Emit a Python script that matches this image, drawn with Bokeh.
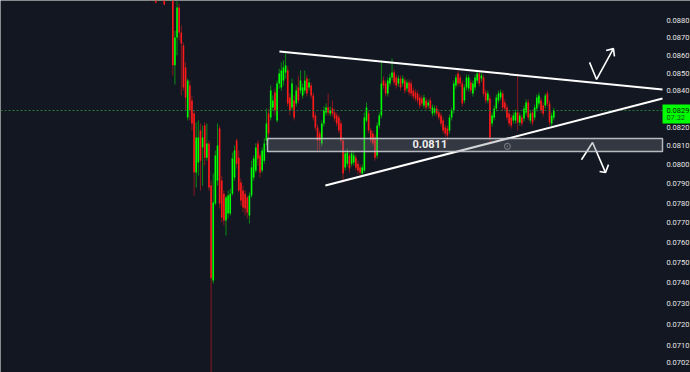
from bokeh.plotting import figure
from bokeh.models import ColumnDataSource, Range1d, Label, BoxAnnotation
from bokeh.core.properties import value
from bokeh.embed import file_html
from bokeh.resources import INLINE

# ---------------- data (prices) ----------------
opens = [
0.09156, 0.09048, 0.09036, 0.09095, 0.09006, 0.09066, 0.09006, 0.08964, 0.09066, 0.08976,
0.08917, 0.08543, 0.08702, 0.08876, 0.08731, 0.08656, 0.08531, 0.08254, 0.08430, 0.08347,
0.08276, 0.07959, 0.08012, 0.08183, 0.08092, 0.08210, 0.08038, 0.08114, 0.07891, 0.07412,
0.07798, 0.07917, 0.08194, 0.07917, 0.07849, 0.07711, 0.07747, 0.07747, 0.07849, 0.07933,
0.08130, 0.08038, 0.07907, 0.07865, 0.07849, 0.07829, 0.07736, 0.07839, 0.07933, 0.07970,
0.08114, 0.08049, 0.07970, 0.08022, 0.08130, 0.08276, 0.08254, 0.08308, 0.08391, 0.08238,
0.08441, 0.08419, 0.08458, 0.08503, 0.08514, 0.08364, 0.08308, 0.08347, 0.08331, 0.08419,
0.08402, 0.08375, 0.08402, 0.08469, 0.08419, 0.08430, 0.08375, 0.08265, 0.08199, 0.08167,
0.08114, 0.08221, 0.08281, 0.08308, 0.08276, 0.08303, 0.08281, 0.08265, 0.08254, 0.08221,
0.08130, 0.07986, 0.08006, 0.08049, 0.08006, 0.08012, 0.08038, 0.08006, 0.07986, 0.07954,
0.07970, 0.08238, 0.08276, 0.08183, 0.08167, 0.08146, 0.08049, 0.08210, 0.08265, 0.08458,
0.08441, 0.08386, 0.08441, 0.08475, 0.08503, 0.08475, 0.08441, 0.08469, 0.08441, 0.08458,
0.08413, 0.08447, 0.08441, 0.08402, 0.08391, 0.08386, 0.08364, 0.08358, 0.08320, 0.08347,
0.08320, 0.08347, 0.08276, 0.08281, 0.08303, 0.08281, 0.08265, 0.08238, 0.08199, 0.08194,
0.08183, 0.08254, 0.08292, 0.08430, 0.08497, 0.08475, 0.08441, 0.08347, 0.08419, 0.08413,
0.08447, 0.08386, 0.08419, 0.08458, 0.08497, 0.08469, 0.08475, 0.08391, 0.08347, 0.08358,
0.08221, 0.08254, 0.08303, 0.08347, 0.08364, 0.08386, 0.08336, 0.08308, 0.08276, 0.08254,
0.08238, 0.08238, 0.08281, 0.08227, 0.08254, 0.08249, 0.08281, 0.08336, 0.08238, 0.08281,
0.08254, 0.08303, 0.08331, 0.08347, 0.08320, 0.08320, 0.08386, 0.08331, 0.08221, 0.08254,
]
highs = [
0.09186, 0.09168, 0.09066, 0.09113, 0.09144, 0.09083, 0.09024, 0.09048, 0.09083, 0.09113,
0.08947, 0.08742, 0.08917, 0.08899, 0.08771, 0.08673, 0.08560, 0.08469, 0.08458, 0.08375,
0.08292, 0.08227, 0.08238, 0.08221, 0.08210, 0.08227, 0.08221, 0.08130, 0.07917, 0.07954,
0.08076, 0.08221, 0.08210, 0.07943, 0.07865, 0.07839, 0.07865, 0.07875, 0.08065, 0.08103,
0.08141, 0.08076, 0.07928, 0.07891, 0.07865, 0.07839, 0.07855, 0.08022, 0.08049, 0.08114,
0.08130, 0.08065, 0.08092, 0.08141, 0.08303, 0.08303, 0.08430, 0.08375, 0.08413, 0.08458,
0.08525, 0.08560, 0.08571, 0.08616, 0.08537, 0.08386, 0.08469, 0.08375, 0.08430, 0.08486,
0.08514, 0.08441, 0.08514, 0.08486, 0.08469, 0.08447, 0.08391, 0.08281, 0.08216, 0.08183,
0.08238, 0.08314, 0.08331, 0.08386, 0.08314, 0.08347, 0.08303, 0.08281, 0.08270, 0.08238,
0.08146, 0.08076, 0.08087, 0.08065, 0.08076, 0.08076, 0.08054, 0.08022, 0.08001, 0.08001,
0.08281, 0.08336, 0.08292, 0.08199, 0.08183, 0.08162, 0.08227, 0.08281, 0.08571, 0.08480,
0.08458, 0.08475, 0.08497, 0.08582, 0.08520, 0.08491, 0.08486, 0.08486, 0.08486, 0.08475,
0.08464, 0.08464, 0.08458, 0.08419, 0.08408, 0.08402, 0.08380, 0.08375, 0.08380, 0.08364,
0.08353, 0.08364, 0.08325, 0.08320, 0.08320, 0.08297, 0.08281, 0.08254, 0.08216, 0.08210,
0.08270, 0.08308, 0.08458, 0.08491, 0.08514, 0.08491, 0.08458, 0.08436, 0.08491, 0.08491,
0.08464, 0.08458, 0.08491, 0.08508, 0.08514, 0.08503, 0.08491, 0.08408, 0.08402, 0.08375,
0.08281, 0.08320, 0.08380, 0.08402, 0.08408, 0.08402, 0.08353, 0.08325, 0.08292, 0.08270,
0.08281, 0.08297, 0.08497, 0.08281, 0.08270, 0.08320, 0.08353, 0.08353, 0.08292, 0.08297,
0.08325, 0.08380, 0.08391, 0.08364, 0.08336, 0.08386, 0.08402, 0.08347, 0.08281, 0.08308,
]
lows = [
0.09036, 0.09024, 0.08899, 0.08970, 0.08988, 0.08958, 0.08888, 0.08947, 0.08929, 0.08947,
0.08486, 0.08436, 0.08599, 0.08685, 0.08375, 0.08402, 0.08292, 0.08238, 0.08238, 0.08183,
0.07839, 0.07881, 0.07943, 0.07865, 0.07891, 0.07996, 0.08022, 0.07865, 0.06935, 0.07397,
0.07788, 0.07891, 0.07772, 0.07701, 0.07686, 0.07635, 0.07721, 0.07736, 0.07839, 0.07917,
0.07980, 0.07855, 0.07788, 0.07752, 0.07736, 0.07721, 0.07696, 0.07829, 0.07917, 0.07959,
0.07996, 0.07933, 0.07959, 0.08006, 0.08103, 0.08130, 0.08238, 0.08292, 0.08265, 0.08227,
0.08413, 0.08402, 0.08430, 0.08469, 0.08314, 0.08265, 0.08292, 0.08238, 0.08314, 0.08331,
0.08386, 0.08358, 0.08386, 0.08369, 0.08402, 0.08358, 0.08238, 0.08183, 0.08076, 0.08076,
0.08098, 0.08205, 0.08265, 0.08265, 0.08260, 0.08260, 0.08232, 0.08205, 0.08167, 0.08114,
0.07907, 0.07970, 0.07991, 0.07959, 0.07991, 0.07996, 0.07970, 0.07949, 0.07938, 0.07943,
0.07959, 0.08227, 0.08167, 0.08114, 0.08098, 0.08022, 0.08033, 0.08194, 0.08249, 0.08413,
0.08369, 0.08369, 0.08424, 0.08458, 0.08430, 0.08413, 0.08424, 0.08402, 0.08424, 0.08386,
0.08396, 0.08375, 0.08369, 0.08353, 0.08342, 0.08331, 0.08303, 0.08314, 0.08303, 0.08292,
0.08303, 0.08287, 0.08260, 0.08265, 0.08260, 0.08238, 0.08205, 0.08167, 0.08151, 0.08130,
0.08167, 0.08238, 0.08276, 0.08413, 0.08424, 0.08424, 0.08314, 0.08331, 0.08402, 0.08396,
0.08386, 0.08369, 0.08402, 0.08441, 0.08424, 0.08452, 0.08369, 0.08331, 0.08331, 0.08119,
0.08205, 0.08238, 0.08287, 0.08331, 0.08347, 0.08292, 0.08287, 0.08238, 0.08205, 0.08194,
0.08221, 0.08221, 0.08183, 0.08210, 0.08205, 0.08232, 0.08265, 0.08238, 0.08221, 0.08210,
0.08238, 0.08287, 0.08314, 0.08276, 0.08260, 0.08303, 0.08314, 0.08210, 0.08205, 0.08238,
]
closes = [
0.09066, 0.09144, 0.08905, 0.08988, 0.09126, 0.08976, 0.08894, 0.09036, 0.08947, 0.09095,
0.08543, 0.08702, 0.08876, 0.08731, 0.08668, 0.08419, 0.08364, 0.08458, 0.08292, 0.08221,
0.07959, 0.08146, 0.08146, 0.08022, 0.08146, 0.08038, 0.08114, 0.07881, 0.07422, 0.07803,
0.08049, 0.08103, 0.07798, 0.07726, 0.07711, 0.07829, 0.07839, 0.07849, 0.08033, 0.08076,
0.08006, 0.07865, 0.07813, 0.07777, 0.07772, 0.07752, 0.07839, 0.07986, 0.08033, 0.08092,
0.08033, 0.07959, 0.08076, 0.08114, 0.08221, 0.08167, 0.08402, 0.08347, 0.08292, 0.08441,
0.08497, 0.08514, 0.08531, 0.08543, 0.08331, 0.08292, 0.08441, 0.08254, 0.08402, 0.08347,
0.08458, 0.08419, 0.08458, 0.08386, 0.08447, 0.08375, 0.08254, 0.08199, 0.08130, 0.08130,
0.08221, 0.08292, 0.08308, 0.08281, 0.08292, 0.08276, 0.08249, 0.08221, 0.08183, 0.08130,
0.07954, 0.08060, 0.08065, 0.07980, 0.08060, 0.08049, 0.07986, 0.07970, 0.07959, 0.07986,
0.08254, 0.08308, 0.08183, 0.08130, 0.08114, 0.08038, 0.08210, 0.08265, 0.08441, 0.08430,
0.08386, 0.08458, 0.08475, 0.08503, 0.08447, 0.08430, 0.08469, 0.08419, 0.08469, 0.08402,
0.08447, 0.08391, 0.08386, 0.08369, 0.08358, 0.08347, 0.08320, 0.08331, 0.08364, 0.08308,
0.08336, 0.08303, 0.08308, 0.08303, 0.08276, 0.08254, 0.08221, 0.08183, 0.08167, 0.08157,
0.08254, 0.08292, 0.08441, 0.08475, 0.08441, 0.08441, 0.08331, 0.08419, 0.08475, 0.08475,
0.08402, 0.08441, 0.08475, 0.08497, 0.08441, 0.08486, 0.08386, 0.08347, 0.08386, 0.08146,
0.08265, 0.08303, 0.08364, 0.08386, 0.08391, 0.08308, 0.08303, 0.08254, 0.08221, 0.08210,
0.08265, 0.08281, 0.08227, 0.08265, 0.08221, 0.08303, 0.08336, 0.08254, 0.08276, 0.08227,
0.08308, 0.08364, 0.08375, 0.08292, 0.08276, 0.08375, 0.08331, 0.08227, 0.08265, 0.08292,
]

price_ticks = [0.0702, 0.0710, 0.0720, 0.0730, 0.0740, 0.0750, 0.0760, 0.0770, 0.0780,
               0.0790, 0.0800, 0.0810, 0.0820, 0.0840, 0.0850, 0.0860, 0.0870, 0.0880]

# drawings (bar index, price)
chart_end = 240.07            # right edge of the candle pane (bar index)
scale_label_x = 241.9         # where the price-scale labels start (bar index)
upper_trend_x = [60.1, chart_end]
upper_trend_y = [0.08622, 0.08408]
lower_trend_x = [81.7, chart_end]
lower_trend_y = [0.07891, 0.08358]
zone_top, zone_bottom, zone_start = 0.0814, 0.0807, 54.5
zone_label = "0.0811"
zone_label_x, zone_label_y = 122.6, 0.08108
anchor_x, anchor_y = [167.2], [0.08098]
up_arrow_x = [[205.8, 209.1, 217.0], [213.6, 217.0, 217.5]]
up_arrow_y = [[0.08560, 0.08464, 0.08638], [0.08627, 0.08638, 0.08594]]
down_arrow_x = [[202.0, 207.2, 213.3], [210.5, 213.3, 214.7]]
down_arrow_y = [[0.08027, 0.08119, 0.07959], [0.07965, 0.07959, 0.08001]]
last_price_text = "0.0829"
countdown_text = "07:32"
last_box_top, last_box_bottom = 0.08325, 0.08221

# ---------------- chart ----------------
BG = "#131722"
GREEN = "#00ff00"
RED = "#ff1a1a"

n = len(closes)
idx = list(range(n))
inc = [c >= o for o, c in zip(opens, closes)]
src = ColumnDataSource(dict(
    x=idx,
    top=[max(o, c) for o, c in zip(opens, closes)],
    bottom=[min(o, c) for o, c in zip(opens, closes)],
    high=highs, low=lows,
    color=[GREEN if u else RED for u in inc],
))

x_start = -70.94
p = figure(width=690, height=372, output_backend="svg", toolbar_location=None,
           y_axis_type="log", x_axis_location=None, y_axis_location=None,
           x_range=Range1d(x_start, 253.22), y_range=Range1d(0.069745, 0.08917),
           min_border_left=0, min_border_right=0, min_border_top=0, min_border_bottom=0,
           background_fill_color=BG, border_fill_color=BG, outline_line_color=None)
p.grid.visible = False

# candles
p.segment(x0="x", y0="high", x1="x", y1="low", source=src, line_color="color",
          line_alpha=0.5, line_width=1)
p.vbar(x="x", top="top", bottom="bottom", width=0.75, source=src,
       fill_color="color", line_color=None)

# last-price dotted line
p.line([x_start, chart_end], [closes[-1], closes[-1]], line_color="#2a7a36",
       line_dash="2 2", line_width=1)

# zone
p.add_layout(BoxAnnotation(left=zone_start, right=chart_end, top=zone_top, bottom=zone_bottom,
                           fill_color="#787b86", fill_alpha=0.33,
                           line_color="#c8cad0", line_width=1.5, line_alpha=0.9))
p.add_layout(Label(x=zone_label_x, y=zone_label_y, text=zone_label, text_baseline="middle",
                   text_color="#eeeeee", text_font="Roboto", text_font_style="bold",
                   text_font_size="11px"))
p.scatter(anchor_x, anchor_y, marker="circle_dot", size=6, fill_alpha=0,
          line_color="#8a8d96", line_width=1)

# triangle + arrows
p.line(upper_trend_x, upper_trend_y, line_color="white", line_width=2)
p.line(lower_trend_x, lower_trend_y, line_color="white", line_width=2)
p.multi_line(up_arrow_x, up_arrow_y, line_color="white", line_width=1.6)
p.multi_line(down_arrow_x, down_arrow_y, line_color="white", line_width=1.6)

# price scale (right)
p.text(x=[scale_label_x] * len(price_ticks), y=price_ticks,
       text=["%.4f" % t for t in price_ticks], text_align="left", text_baseline="middle",
       text_color="#e6e6e6", text_font=value("Roboto"), text_font_size="7.5px")

# last price box on the scale
p.quad(left=[chart_end], right=[253.22], top=[last_box_top], bottom=[last_box_bottom],
       fill_color=GREEN, line_color=None)
p.text(x=[scale_label_x], y=[closes[-1]], text=[last_price_text], text_align="left",
       text_baseline="middle", text_color="#0b1a0b", text_font=value("Roboto"),
       text_font_size="7.5px")
p.text(x=[scale_label_x], y=[closes[-1]], y_offset=7, text=[countdown_text], text_align="left",
       text_baseline="middle", text_color="#0a5a14", text_font=value("Roboto"),
       text_font_size="7.5px")

open("out.html", "w").write(file_html(p, INLINE))
